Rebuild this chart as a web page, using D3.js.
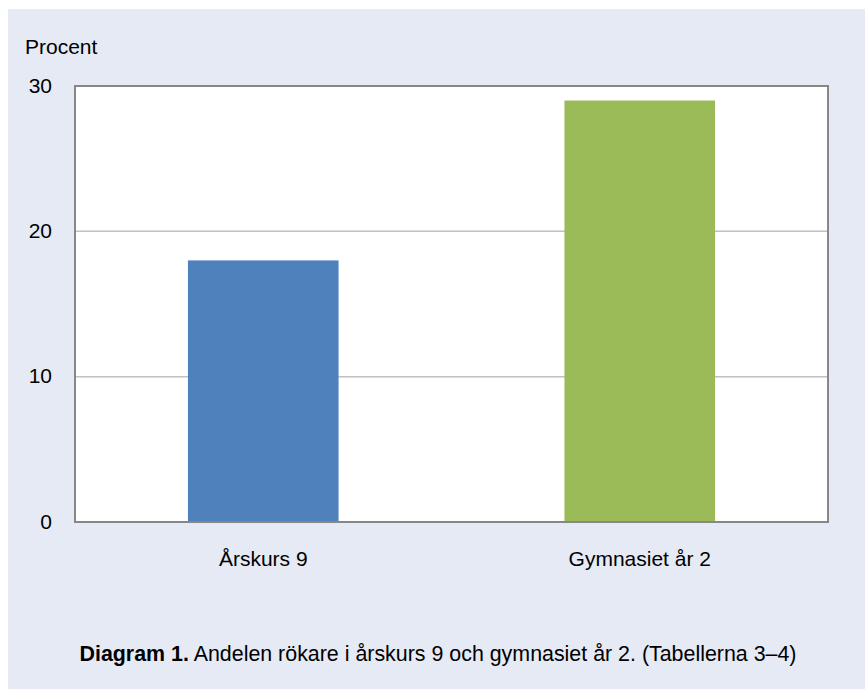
<!DOCTYPE html>
<html><head><meta charset="utf-8">
<script src="https://cdn.jsdelivr.net/npm/d3@7"></script>
<style>body{margin:0;background:#fff;}svg{display:block;font-family:"Liberation Sans",Arial,sans-serif;}</style>
</head><body>
<svg id="c" width="865" height="689"></svg>
<script>
const categories = ["Årskurs 9", "Gymnasiet år 2"];
const values = [18, 29];
const colors = ["#4f81bd", "#9bbb59"];
const yTicks = [0, 10, 20, 30];
const yLabel = "Procent";
const captionBold = "Diagram 1.";
const captionText = " Andelen rökare i årskurs 9 och gymnasiet år 2. (Tabellerna 3–4)";

const FS = 21;
const svg = d3.select("#c");
svg.append("rect").attr("x", 8).attr("y", 9).attr("width", 857).attr("height", 680).attr("fill", "#e6eaf5");

const m = {l: 75, r: 828, t: 86, b: 522};
const x = d3.scaleBand().domain(categories).range([m.l, m.r]).paddingInner(0.6).paddingOuter(0.3);
const y = d3.scaleLinear().domain([0, 30]).range([m.b, m.t]);

svg.append("rect").attr("x", m.l).attr("y", m.t).attr("width", m.r - m.l).attr("height", m.b - m.t).attr("fill", "#fff");

svg.append("g").selectAll("line").data(yTicks.filter(d => d > 0 && d < 30)).join("line")
  .attr("x1", m.l).attr("x2", m.r).attr("y1", d => y(d)).attr("y2", d => y(d))
  .attr("stroke", "#c0c0c0").attr("stroke-width", 1.5);

svg.append("g").selectAll("rect").data(values).join("rect")
  .attr("x", (d, i) => x(categories[i])).attr("width", x.bandwidth())
  .attr("y", d => y(d)).attr("height", d => y(0) - y(d))
  .attr("fill", (d, i) => colors[i]);

// frame
svg.append("rect").attr("x", m.l).attr("y", m.t).attr("width", m.r - m.l).attr("height", m.b - m.t)
  .attr("fill", "none").attr("stroke", "#878787").attr("stroke-width", 2);

const yAxis = d3.axisLeft(y).tickValues(yTicks).tickSize(0).tickPadding(23);
const ga = svg.append("g").attr("transform", `translate(${m.l},0)`).call(yAxis);
ga.select(".domain").remove();
ga.attr("font-size", FS).attr("font-family", null);
ga.selectAll("text").attr("fill", "#000").attr("dy", "0.3em");

const xAxis = d3.axisBottom(x).tickSize(0).tickPadding(44);
const gx = svg.append("g").attr("transform", `translate(0,${m.b})`).call(xAxis);
gx.select(".domain").remove();
gx.attr("font-size", FS).attr("font-family", null);
gx.selectAll("text").attr("fill", "#000").attr("dy", "0");

svg.append("text").attr("x", 25).attr("y", 54).attr("font-size", FS).text(yLabel);

const cap = svg.append("text").attr("x", 438).attr("y", 661).attr("text-anchor", "middle").attr("font-size", 21.4);
cap.append("tspan").attr("font-weight", "bold").text(captionBold);
cap.append("tspan").text(captionText);
</script>
</body></html>
